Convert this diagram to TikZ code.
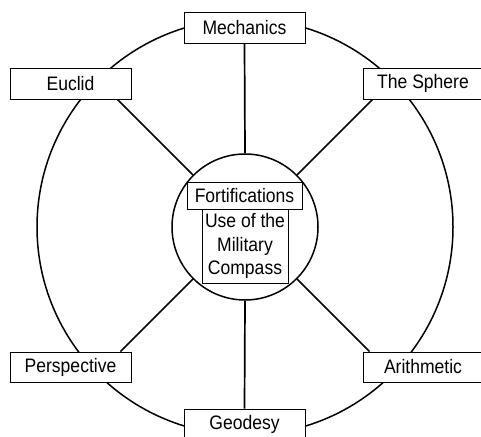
\documentclass[tikz,border=0pt]{standalone}
\usepackage{fontspec}
\setmainfont{Liberation Sans}[FakeStretch=0.9]
\begin{document}
\begin{tikzpicture}[x=1pt,y=-1pt,
  box/.style={draw, line width=0.9pt, fill=white, minimum width=121pt, minimum height=31pt, inner sep=0pt, font=\fontsize{19.5}{23.5}\selectfont},
  spoke/.style={line width=1.7pt},
  rim/.style={circle, draw, line width=1.5pt, inner sep=0pt}
]
\useasboundingbox (0,0) rectangle (481,436);
\node[rim, minimum size=416pt] (ring) at (245,227) {};
\node[rim, fill=white, minimum size=146pt] (hub) at (245,227) {};
\node[box] (mech) at (244.5,27.5) {Mechanics};
\node[box] (eucl) at (70.5,83.5) {Euclid};
\node[box, minimum width=120pt] (sph) at (423,83.5) {The Sphere};
\node[box, minimum height=30pt] (persp) at (70.5,367) {Perspective};
\node[box, minimum width=120pt, minimum height=30pt] (arith) at (423,367) {Arithmetic};
\node[box] (geod) at (244.5,424.5) {Geodesy};
\node[box, minimum width=115pt, minimum height=27pt] (fort) at (244.5,195.5) {Fortifications};
\node[box, minimum width=86pt, minimum height=74pt, align=center] (comp) at (245,246) {Use of the\\Military\\Compass};
\draw[spoke] (mech.south) -- (hub.north);
\draw[spoke] (hub.south) -- (geod.north);
\draw[spoke] (hub.135) -- (intersection of hub.center--hub.135 and eucl.south west--eucl.south east);
\draw[spoke] (hub.45) -- (intersection of hub.center--hub.45 and sph.south west--sph.south east);
\draw[spoke] (hub.225) -- (intersection of hub.center--hub.225 and persp.north west--persp.north east);
\draw[spoke] (hub.315) -- (intersection of hub.center--hub.315 and arith.north west--arith.north east);
\end{tikzpicture}
\end{document}
